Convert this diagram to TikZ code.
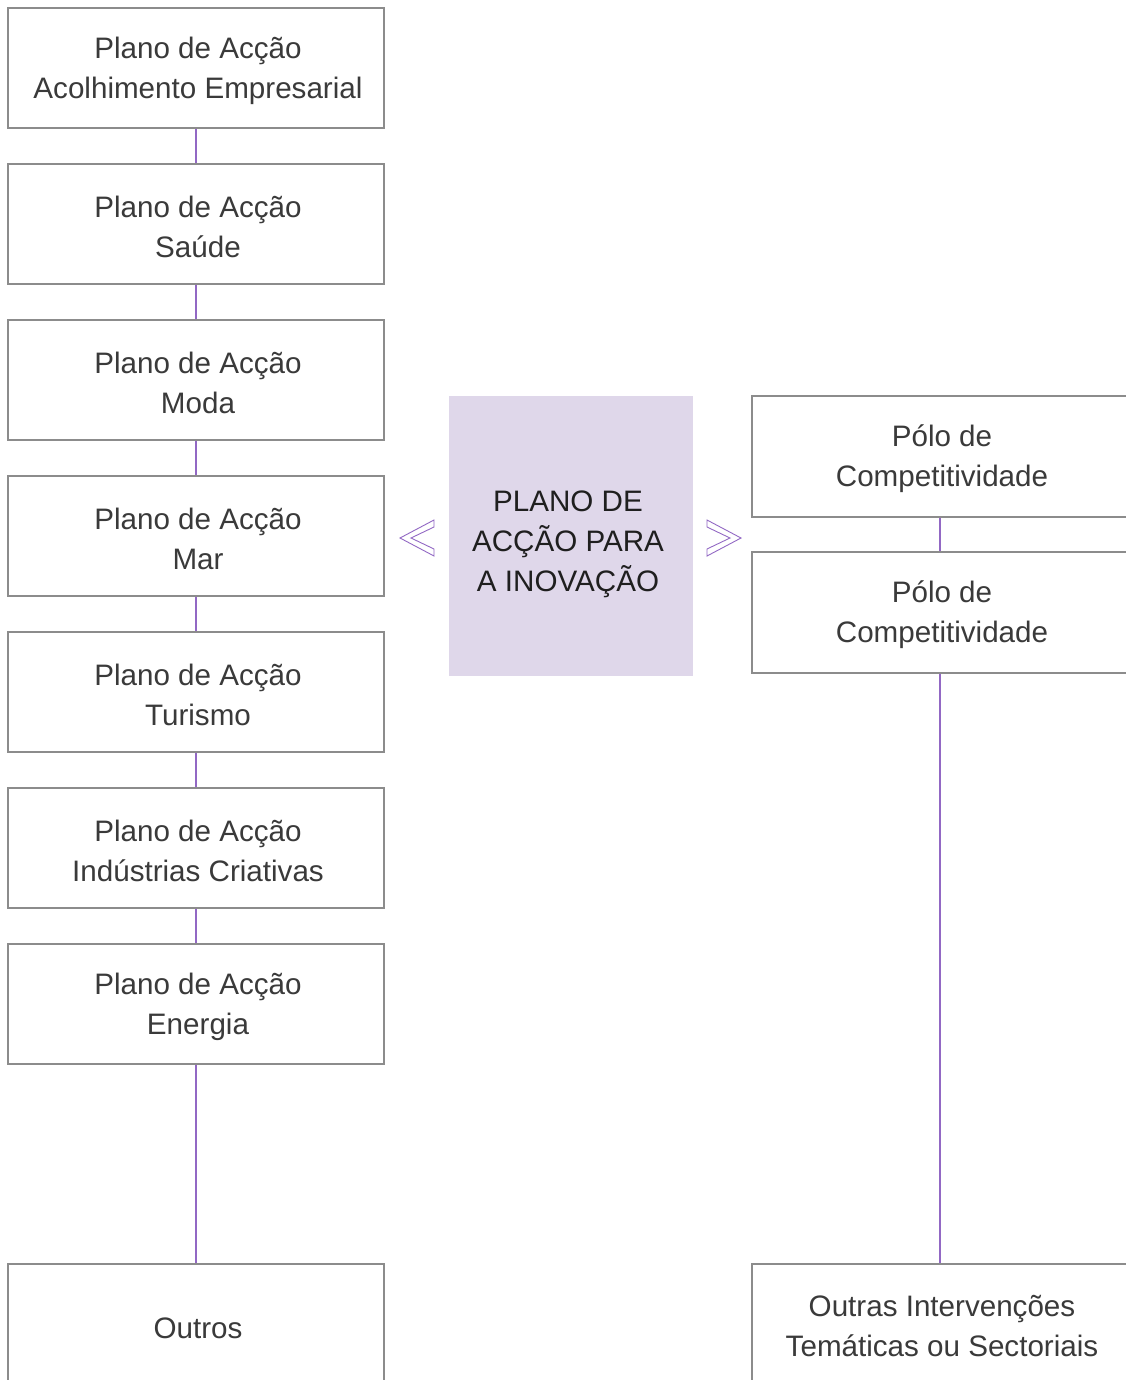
\documentclass[tikz,border=0pt]{standalone}
\usepackage{fontspec}
\setmainfont{Liberation Sans}
\definecolor{boxline}{HTML}{8C8C8C}
\definecolor{linkcol}{HTML}{9268C4}
\definecolor{centerfill}{HTML}{DFD7EA}
\definecolor{txt}{HTML}{3A3A3A}
\begin{document}
\begin{tikzpicture}[x=1pt,y=-1pt,
  planbox/.style={draw=boxline, line width=1.1pt, rectangle, minimum width=376pt, minimum height=120pt,
    inner sep=0pt},
  boxtext/.style={inner sep=0pt, align=center, text=txt, font=\fontsize{29.6}{40}\selectfont},
  corebox/.style={fill=centerfill, draw=none, rectangle, minimum width=244pt, minimum height=280pt,
    inner sep=0pt},
  coretext/.style={inner sep=0pt, align=center, text=black!88, font=\fontsize{29.6}{40}\selectfont},
  link/.style={draw=linkcol, line width=1.3pt},
  chev/.style={draw=linkcol, line width=0.9pt, fill=white, line join=miter}]
\useasboundingbox (0,0) rectangle (1125,1380);
\fill[white] (0,0) rectangle (1125,1380);

% boxes
\node[planbox] (l1) at (196,68) {};
\node[planbox] (l2) at (196,224) {};
\node[planbox] (l3) at (196,380) {};
\node[planbox] (l4) at (196,536) {};
\node[planbox] (l5) at (196,692) {};
\node[planbox] (l6) at (196,848) {};
\node[planbox] (l7) at (196,1004) {};
\node[planbox] (l8) at (196,1324) {};
\node[corebox] (c) at (571,536) {};
\node[planbox, minimum height=121pt] (r1) at (940,456.5) {};
\node[planbox, minimum height=121pt] (r2) at (940,612.5) {};
\node[planbox] (r3) at (940,1324) {};

% texts
\node[boxtext] (l1t) at ([shift={(2,2.5)}]l1.center) {Plano de Acção\\Acolhimento Empresarial};
\node[boxtext] (l2t) at ([shift={(2,2.5)}]l2.center) {Plano de Acção\\Saúde};
\node[boxtext] (l3t) at ([shift={(2,2.5)}]l3.center) {Plano de Acção\\Moda};
\node[boxtext] (l4t) at ([shift={(2,2.5)}]l4.center) {Plano de Acção\\Mar};
\node[boxtext] (l5t) at ([shift={(2,2.5)}]l5.center) {Plano de Acção\\Turismo};
\node[boxtext] (l6t) at ([shift={(2,2.5)}]l6.center) {Plano de Acção\\Indústrias Criativas};
\node[boxtext] (l7t) at ([shift={(2,2.5)}]l7.center) {Plano de Acção\\Energia};
\node[boxtext] (l8t) at ([shift={(2,4.5)}]l8.center) {Outros};
\node[coretext] (ct) at ([shift={(-3,8)}]c.center) {PLANO DE\\ACÇÃO PARA\\A INOVAÇÃO};
\node[boxtext] (r1t) at ([shift={(2,2)}]r1.center) {Pólo de\\Competitividade};
\node[boxtext] (r2t) at ([shift={(2,2)}]r2.center) {Pólo de\\Competitividade};
\node[boxtext] (r3t) at ([shift={(2,2.5)}]r3.center) {Outras Intervenções\\Temáticas ou Sectoriais};

% connectors
\foreach \a/\b in {l1/l2,l2/l3,l3/l4,l4/l5,l5/l6,l6/l7,l7/l8,r1/r2,r2/r3}
  \draw[link] (\a.south) -- (\b.north);

% chevrons
\draw[chev] (434,520) -- (400,538) -- (434,556) -- (434,549) -- (411,538) -- (434,527) -- cycle;
\draw[chev] (707,520) -- (741,538) -- (707,556) -- (707,549) -- (730,538) -- (707,527) -- cycle;
\end{tikzpicture}
\end{document}
